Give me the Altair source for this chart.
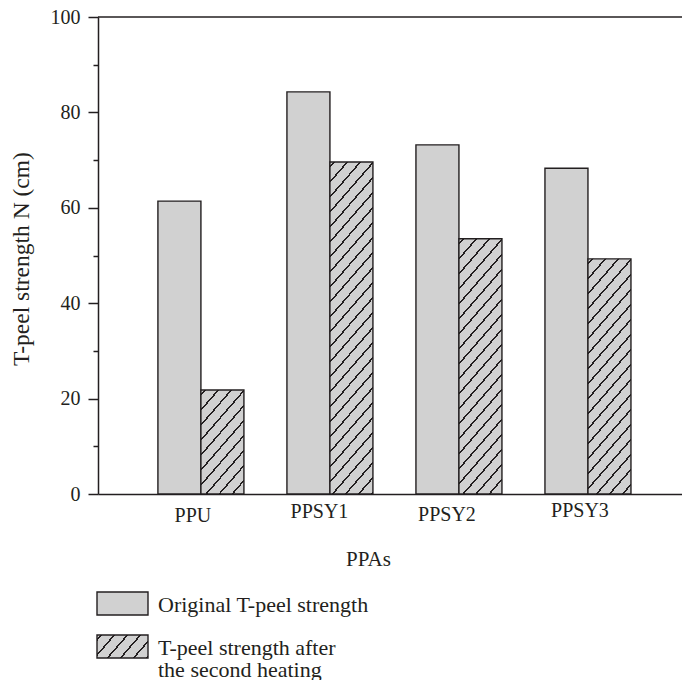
import math
import altair as alt
import pandas as pd

# ---- data ----
categories = ["PPU", "PPSY1", "PPSY2", "PPSY3"]
original = [61.4, 84.3, 73.2, 68.3]
after_heating = [21.8, 69.6, 53.5, 49.3]
series_keys = ["orig", "heat"]
legend_labels = ["Original T-peel strength", "T-peel strength after\nthe second heating"]
y_ticks = [0, 10, 20, 30, 40, 50, 60, 70, 80, 90, 100]

# ---- style ----
FONT = "Liberation Serif"
INK = "#231f20"
GRAY = "#d1d1d1"
W, H = 584, 477
BAR_W = 43
AX_FS = 20
LEG_FS = 22

rows = []
for c, o, a in zip(categories, original, after_heating):
    rows.append({"cat": c, "series": "orig", "value": o})
    rows.append({"cat": c, "series": "heat", "value": a})
df = pd.DataFrame(rows)
legend_df = pd.DataFrame({"key": series_keys, "label": legend_labels})


def hatch(w, h, m=1.15, vs=15.0, lt=1.5, phase=5.0):
    """Linear gradient with hard stops that draws '/' hatching on a w x h box."""
    D = m * w + h
    q = D / (m * m * w * w + h * h)
    d = lt * math.sqrt(m * m + 1) / 2.0
    stops = [{"offset": 0, "color": GRAY}]
    c = phase
    while c < D:
        t0 = max(0.0, (c - d) / D)
        t1 = min(1.0, (c + d) / D)
        stops += [
            {"offset": t0, "color": GRAY},
            {"offset": t0, "color": INK},
            {"offset": t1, "color": INK},
            {"offset": t1, "color": GRAY},
        ]
        c += vs
    stops.append({"offset": 1, "color": GRAY})
    return {"gradient": "linear", "x1": 0, "y1": 0, "x2": m * w * q, "y2": h * q, "stops": stops}


x_enc = alt.X(
    "cat:N",
    scale=alt.Scale(domain=categories, paddingInner=1 / 3, paddingOuter=0.43, align=0.54),
    axis=alt.Axis(
        title="PPAs",
        titleFontSize=21,
        ticks=False,
        labelAngle=0,
        labelBaseline="alphabetic",
        labelOffset={
            "condition": [
                {"test": "datum.value == 'PPU'", "value": -8},
                {"test": "datum.value == 'PPSY1'", "value": -10.5},
                {"test": "datum.value == 'PPSY2'", "value": -12},
            ],
            "value": -8,
        },
        labelPadding={
            "condition": [
                {"test": "datum.value == 'PPU'", "value": 27},
                {"test": "datum.value == 'PPSY1'", "value": 23},
                {"test": "datum.value == 'PPSY2'", "value": 26},
            ],
            "value": 22,
        },
        titleX=270,
        titleY=71,
        titleAlign="center",
        titleBaseline="alphabetic",
    ),
)
xo_enc = alt.XOffset("series:N", scale=alt.Scale(domain=series_keys, paddingInner=0, paddingOuter=0))
y_enc = alt.Y(
    "value:Q",
    scale=alt.Scale(domain=[0, 100], nice=False),
    axis=alt.Axis(
        title="T-peel strength N (cm)",
        titleFontSize=23.5,
        values=y_ticks,
        labelExpr="datum.value % 20 == 0 ? datum.label : ''",
        tickSize={"condition": {"test": "datum.value % 20 != 0", "value": 5}, "value": 10},
        labelPadding=8,
        grid=False,
        titleX=-70,
        titleY=H / 2 + 3,
        titleAngle=270,
        titleAlign="center",
        titleBaseline="alphabetic",
    ),
)

base = alt.Chart(df)
gray_bars = base.transform_filter(alt.datum.series == "orig").mark_bar(
    fill=GRAY, stroke=INK, strokeWidth=1.4
).encode(x=x_enc, xOffset=xo_enc, y=y_enc)

layers = [gray_bars]
for c, a in zip(categories, after_heating):
    hpx = a / 100.0 * H
    layers.append(
        base.transform_filter((alt.datum.series == "heat") & (alt.datum.cat == c))
        .mark_bar(fill=hatch(BAR_W, hpx), stroke=INK, strokeWidth=1.4)
        .encode(x=x_enc, xOffset=xo_enc, y=y_enc)
    )

top_rule = alt.Chart(pd.DataFrame({"v": [100]})).mark_rule(color=INK, strokeWidth=1.5).encode(
    y=alt.datum(100)
)
layers.append(top_rule)
main = alt.layer(*layers)

# ---- legend (below the plot, own y scale) ----
ly = alt.Y(
    "key:N",
    scale=alt.Scale(domain=series_keys, range=[565, 651], paddingInner=0.465, paddingOuter=0.2325),
    axis=None,
)
lbase = alt.Chart(legend_df)
leg_gray = lbase.transform_filter(alt.datum.key == "orig").mark_bar(
    fill=GRAY, stroke=INK, strokeWidth=1.4
).encode(x=alt.value(-1), x2=alt.value(50), y=ly)
leg_hatch = lbase.transform_filter(alt.datum.key == "heat").mark_bar(
    fill=hatch(51, 23), stroke=INK, strokeWidth=1.4
).encode(x=alt.value(-1), x2=alt.value(50), y=ly)
leg_text = lbase.mark_text(
    align="left", baseline="alphabetic", dy=8.5, lineBreak="\n", lineHeight=22,
    font=FONT, fontSize=LEG_FS, color=INK,
).encode(x=alt.value(60), y=ly, text="label:N")
legend = alt.layer(leg_gray, leg_hatch, leg_text)

chart = (
    alt.layer(main, legend)
    .resolve_scale(y="independent")
    .properties(
        width=W,
        height=H,
        autosize=alt.AutoSizeParams(type="none"),
        padding={"left": 98, "top": 17, "right": 0, "bottom": 186},
        background="white",
    )
    .configure_view(stroke=None)
    .configure_axis(
        labelFont=FONT,
        titleFont=FONT,
        labelFontSize=AX_FS,
        titleFontSize=AX_FS,
        labelColor=INK,
        titleColor=INK,
        titleFontWeight="normal",
        domainColor=INK,
        domainWidth=1.5,
        tickColor=INK,
        tickWidth=1.5,
    )
)

chart.save("out.html", embed_options={"renderer": "svg", "actions": False})
